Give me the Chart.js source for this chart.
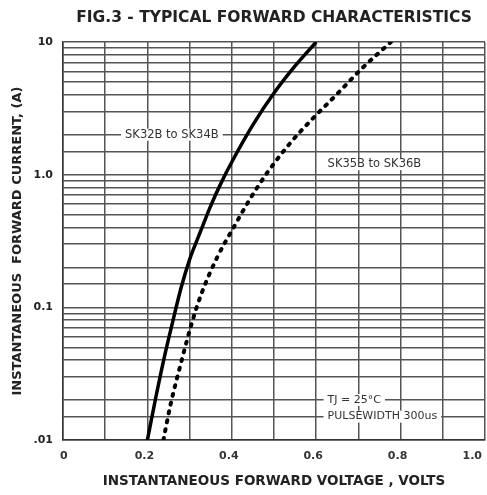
<!DOCTYPE html>
<html lang="en">
<head>
  <meta charset="UTF-8">
  <title>FIG.3 - Typical Forward Characteristics</title>
  <script src="https://cdn.jsdelivr.net/npm/chart.js"></script>
  <style>
    html, body { margin: 0; padding: 0; background: #fff; }
    canvas { display: block; }
  </style>
</head>
<body>
  <canvas id="fwdChart" width="487" height="495"></canvas>

  <script>
    // SK32B to SK34B (solid curve)
    const voltsLow = [0.200, 0.220, 0.240, 0.260, 0.280, 0.300, 0.325, 0.350, 0.375, 0.400, 0.450, 0.500, 0.550, 0.600];
    const ampsLow  = [0.010, 0.021, 0.042, 0.078, 0.141, 0.229, 0.367, 0.582, 0.871, 1.245, 2.37, 4.12, 6.6, 10];

    // SK35B to SK36B (dotted curve)
    const voltsHigh = [0.238, 0.254, 0.282, 0.306, 0.329, 0.365, 0.404, 0.440, 0.484, 0.539, 0.594, 0.650, 0.705, 0.777];
    const ampsHigh  = [0.010, 0.018, 0.0407, 0.0776, 0.129, 0.237, 0.398, 0.631, 1.035, 1.74, 2.69, 4.07, 6.17, 10];

    const xTickLabels = ['0', '0.2', '0.4', '0.6', '0.8', '1.0'];
    const yLabelValues = [0.01, 0.1, 1, 10];
    const yLabelTexts = ['.01', '0.1', '1.0', '10'];
    const yDecades = [0.01, 0.1, 1];
    const yGridSteps = [1, 1.5, 2, 3, 4, 5, 6, 7, 8, 9];

    const noteTexts = ['SK32B to SK34B', 'SK35B to SK36B', 'TJ = 25\u00B0C', 'PULSEWIDTH 300us'];
    const noteVolts = [0.147, 0.627, 0.627, 0.627];
    const noteAmps  = [2.0, 1.2, 0.02, 0.015];

    const yGridValues = [];
    yDecades.forEach(d => yGridSteps.forEach(m => yGridValues.push(d * m)));
    yGridValues.push(10);

    const FONT = '"DejaVu Sans", Verdana, sans-serif';

    // labels sitting on the grid with a white box behind them
    const notePlugin = {
      id: 'notes',
      beforeDatasetsDraw(chart) {
        const { ctx, scales: { x, y } } = chart;
        ctx.save();
        ctx.textBaseline = 'middle';
        noteTexts.forEach((t, i) => {
          ctx.font = (i < 2 ? '11.5px ' : '11px ') + FONT;
          const px = x.getPixelForValue(noteVolts[i]);
          const py = y.getPixelForValue(noteAmps[i]);
          const w = ctx.measureText(t).width;
          ctx.fillStyle = '#fff';
          ctx.fillRect(px - 4, py - 6, w + 8, 12);
          ctx.fillStyle = '#333';
          ctx.fillText(t, px, py);
        });
        ctx.restore();
      }
    };

    const toPoints = (vs, is) => vs.map((v, i) => ({ x: v, y: is[i] }));

    new Chart(document.getElementById('fwdChart'), {
      type: 'line',
      data: {
        datasets: [
          {
            label: 'SK32B to SK34B',
            data: toPoints(voltsLow, ampsLow),
            borderColor: '#000',
            borderWidth: 3.5,
            pointRadius: 0,
            cubicInterpolationMode: 'monotone',
            fill: false
          },
          {
            label: 'SK35B to SK36B',
            data: toPoints(voltsHigh, ampsHigh),
            borderColor: '#000',
            borderWidth: 4,
            borderDash: [2, 7],
            borderCapStyle: 'round',
            pointRadius: 0,
            cubicInterpolationMode: 'monotone',
            fill: false
          }
        ]
      },
      options: {
        responsive: false,
        animation: false,
        layout: { padding: { left: 0, right: 2, top: 0, bottom: 0 } },
        plugins: {
          legend: { display: false },
          tooltip: { enabled: false },
          title: {
            display: true,
            text: 'FIG.3 - TYPICAL FORWARD CHARACTERISTICS',
            fullSize: false,
            color: '#222',
            font: { family: FONT, size: 15.5, weight: 'bold' },
            padding: { top: 9, bottom: 14.4 }
          }
        },
        scales: {
          x: {
            type: 'linear',
            min: 0,
            max: 1,
            ticks: {
              stepSize: 0.1,
              autoSkip: false,
              maxRotation: 0,
              align: 'inner',
              padding: 10,
              labelOffset: -3,
              color: '#333',
              font: { family: FONT, size: 11, weight: 'bold' },
              callback: v => {
                const k = Math.round(v * 10);
                return k % 2 === 0 ? xTickLabels[k / 2] : '';
              }
            },
            grid: { color: '#555', lineWidth: 1.5, drawTicks: false },
            border: { color: '#333', width: 1.5 },
            title: {
              display: true,
              text: 'INSTANTANEOUS FORWARD VOLTAGE , VOLTS',
              color: '#222',
              font: { family: FONT, size: 13.5, weight: 'bold' },
              padding: { top: 0, bottom: 5 }
            },
            afterFit: s => { s.height = 55; s.paddingLeft = 0; s.paddingRight = 0; }
          },
          y: {
            type: 'logarithmic',
            min: 0.01,
            max: 10,
            afterBuildTicks: s => { s.ticks = yGridValues.map(v => ({ value: v })); },
            ticks: {
              autoSkip: false,
              padding: 10,
              color: '#222',
              font: { family: FONT, size: 11, weight: 'bold' },
              callback: v => {
                const i = yLabelValues.findIndex(l => Math.abs(Math.log10(l) - Math.log10(v)) < 1e-6);
                return i >= 0 ? yLabelTexts[i] : '';
              }
            },
            grid: { color: '#555', lineWidth: 1.5, drawTicks: false },
            border: { color: '#333', width: 1.5 },
            title: {
              display: true,
              text: 'INSTANTANEOUS  FORWARD CURRENT, (A)',
              color: '#222',
              font: { family: FONT, size: 13, weight: 'bold' },
              padding: { top: 10, bottom: 0 }
            },
            afterFit: s => { s.width = 63; s.paddingTop = 0; s.paddingBottom = 0; }
          }
        }
      },
      plugins: [notePlugin]
    });
  </script>
</body>
</html>
